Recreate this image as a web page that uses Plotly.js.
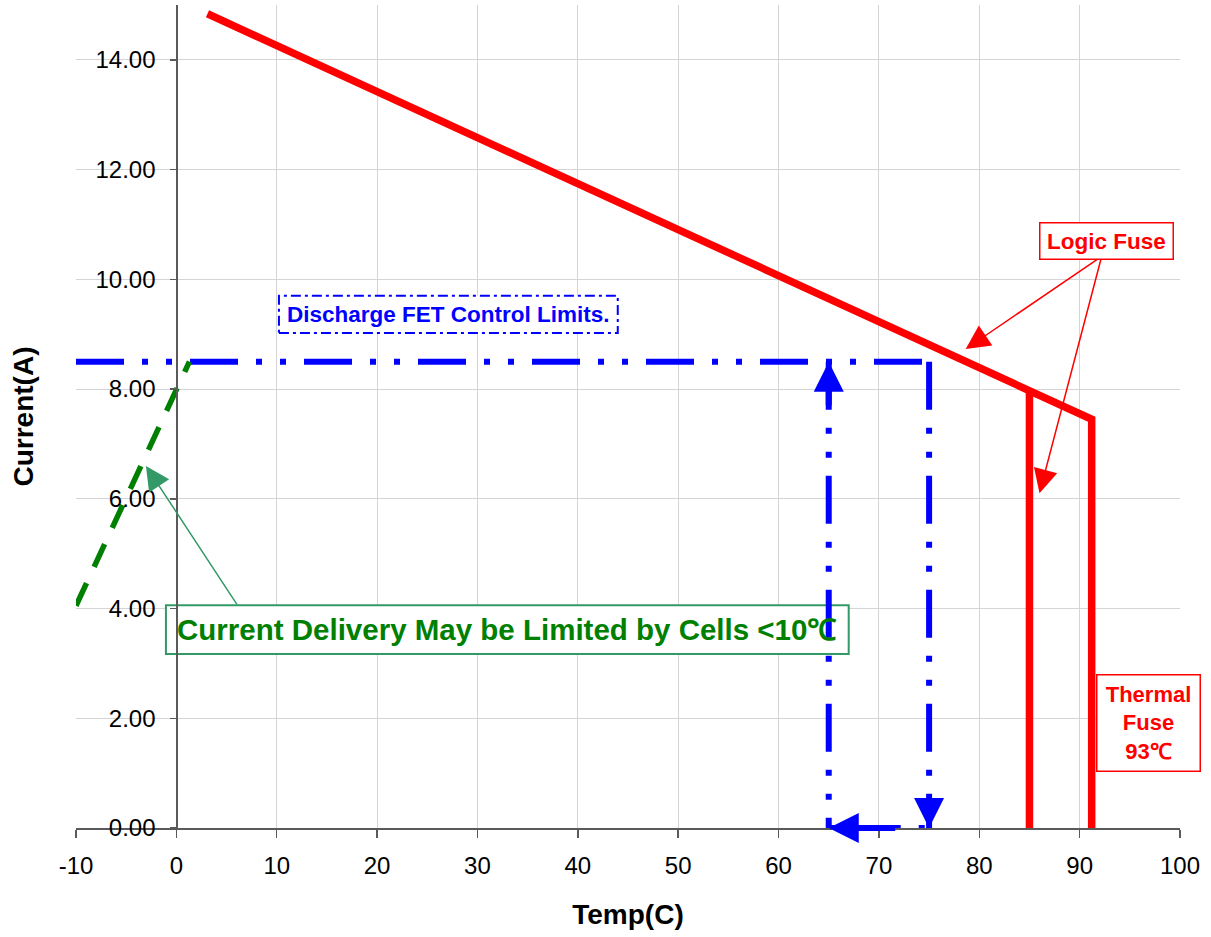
<!DOCTYPE html>
<html>
<head>
<meta charset="utf-8">
<script src="https://cdn.plot.ly/plotly-3.0.1.min.js"></script>
<style>html,body{margin:0;padding:0;background:#fff;}#chart{width:1211px;height:937px;}</style>
</head>
<body>
<div id="chart"></div>
<script>
// ---- data ----
const xTickVals = [-10, 0, 10, 20, 30, 40, 50, 60, 70, 80, 90, 100];
const yTickVals = [0, 2, 4, 6, 8, 10, 12, 14];

const currentLimitTemp = [3.1, 91.2, 91.2];     // red limit line + thermal fuse drop
const currentLimitAmps = [14.84, 7.45, 0];
const logicFuseTemp = [85, 85];
const logicFuseAmps = [7.95, 0];

const fetLimitTemp = [-10, 75];                 // discharge FET control limit
const fetLimitAmps = [8.5, 8.5];
const fetDropTemp = [75, 75];
const fetDropAmps = [8.5, 0];
const fetRiseTemp = [65, 65];
const fetRiseAmps = [8.5, 0];
const fetBackTemp = [65, 75];
const fetBackAmps = [0, 0];

const cellLimitTemp = [-10, 1.3];               // cells < 10C
const cellLimitAmps = [4.05, 8.5];

// ---- styling ----
const FONT = 'Liberation Sans, Arial, sans-serif';
const RED = '#FF0000', BLUE = '#0000FF', GREEN = '#008000', SEA = '#339966';
const DASHDOT = '48px,18px,6px,18px,6px,18px';

const traces = [
  {x: currentLimitTemp, y: currentLimitAmps, mode: 'lines', line: {color: RED, width: 7.5}},
  {x: logicFuseTemp, y: logicFuseAmps, mode: 'lines', line: {color: RED, width: 7.5}},
  {x: fetLimitTemp, y: fetLimitAmps, mode: 'lines', line: {color: BLUE, width: 6, dash: DASHDOT}},
  {x: fetDropTemp, y: fetDropAmps, mode: 'lines', line: {color: BLUE, width: 6, dash: DASHDOT}},
  {x: fetRiseTemp, y: fetRiseAmps, mode: 'lines', line: {color: BLUE, width: 6, dash: DASHDOT}},
  {x: fetBackTemp, y: fetBackAmps, mode: 'lines', line: {color: BLUE, width: 6, dash: DASHDOT}},
  {x: cellLimitTemp, y: cellLimitAmps, mode: 'lines', line: {color: GREEN, width: 5.5, dash: '25px,18px'}}
];

const annotations = [
  // blue arrow heads
  {x: fetRiseTemp[0], y: fetRiseAmps[0], ax: 0, ay: 45, text: '', showarrow: true, arrowhead: 2, arrowsize: 1, arrowwidth: 6, arrowcolor: BLUE},
  {x: fetDropTemp[1], y: fetDropAmps[1], ax: 0, ay: -30, text: '', showarrow: true, arrowhead: 2, arrowsize: 1, arrowwidth: 6, arrowcolor: BLUE},
  {x: fetBackTemp[0], y: fetBackAmps[0], ax: 68, ay: 0, text: '', showarrow: true, arrowhead: 2, arrowsize: 1, arrowwidth: 6, arrowcolor: BLUE},
  // Logic fuse arrows
  {x: 78.65, y: 8.73, ax: 92.2, ay: 10.42, axref: 'x', ayref: 'y', text: '', showarrow: true, arrowhead: 2, arrowsize: 3.2, arrowwidth: 1.5, arrowcolor: RED},
  {x: 86.0, y: 6.1, ax: 92.2, ay: 10.42, axref: 'x', ayref: 'y', text: '', showarrow: true, arrowhead: 2, arrowsize: 3.2, arrowwidth: 1.5, arrowcolor: RED},
  // green arrow
  {x: -3.03, y: 6.6, ax: 6.13, ay: 4.05, axref: 'x', ayref: 'y', text: '', showarrow: true, arrowhead: 2, arrowsize: 3.2, arrowwidth: 1.5, arrowcolor: SEA},
  // text boxes
  {x: 92.69, y: 10.70, text: 'Logic Fuse', showarrow: false, font: {family: FONT, size: 22.5, color: RED, weight: 'bold'},
   bgcolor: '#ffffff', bordercolor: RED, borderwidth: 1.5, borderpad: 2, width: 128, height: 31},
  {x: 96.82, y: 1.91, text: 'Thermal<br>Fuse<br>93℃', showarrow: false, font: {family: FONT, size: 22, color: RED, weight: 'bold'},
   bgcolor: '#ffffff', bordercolor: RED, borderwidth: 1.5, borderpad: 2, width: 98, height: 91},
  {x: 27.10, y: 9.36, text: 'Discharge FET Control Limits.', showarrow: false, font: {family: FONT, size: 22.5, color: BLUE, weight: 'bold'}},
  {x: 32.98, y: 3.62, text: 'Current Delivery May be Limited by Cells <10℃', showarrow: false, font: {family: FONT, size: 29.5, color: GREEN, weight: 'bold'}}
];

const shapes = [
  {type: 'rect', xref: 'x', yref: 'y', x0: 10.22, x1: 43.98, y0: 9.02, y1: 9.70,
   fillcolor: '#ffffff', line: {color: BLUE, width: 2, dash: '10px,4px,3px,4px'}, layer: 'above'},
  {type: 'rect', xref: 'x', yref: 'y', x0: -1.04, x1: 66.99, y0: 3.17, y1: 4.06,
   fillcolor: '#ffffff', line: {color: SEA, width: 2}, layer: 'between'}
];

const layout = {
  width: 1211, height: 937,
  margin: {l: 76, r: 31, t: 5, b: 109, pad: 0},
  paper_bgcolor: '#ffffff', plot_bgcolor: '#ffffff',
  showlegend: false,
  font: {family: FONT, size: 24, color: '#000000'},
  xaxis: {
    range: [-10, 100], tickvals: xTickVals, ticktext: xTickVals.map(String),
    showgrid: true, gridcolor: '#d4d4d4', gridwidth: 1,
    showline: true, linecolor: '#5a5a5a', linewidth: 1.5,
    ticks: 'outside', ticklen: 8, tickcolor: '#5a5a5a', tickwidth: 1.5,
    ticklabelstandoff: 8,
    tickfont: {family: FONT, size: 24, color: '#000'},
    zeroline: false,
    title: {text: 'Temp(C)', font: {family: FONT, size: 28, weight: 'bold', color: '#000'}, standoff: 26}
  },
  yaxis: {
    range: [0, 15], tickvals: yTickVals, ticktext: yTickVals.map(v => v.toFixed(2)),
    anchor: 'free', position: 10 / 110,
    showgrid: true, gridcolor: '#d4d4d4', gridwidth: 1,
    showline: true, linecolor: '#5a5a5a', linewidth: 1.5,
    ticks: 'outside', ticklen: 6, tickcolor: '#5a5a5a', tickwidth: 1.5,
    ticklabelstandoff: 10,
    tickfont: {family: FONT, size: 24, color: '#000'},
    zeroline: false,
    title: {text: 'Current(A)', font: {family: FONT, size: 28, weight: 'bold', color: '#000'}, standoff: 52}
  },
  annotations: annotations,
  shapes: shapes
};

Plotly.newPlot('chart', traces, layout, {displayModeBar: false, staticPlot: true});
</script>
</body>
</html>
